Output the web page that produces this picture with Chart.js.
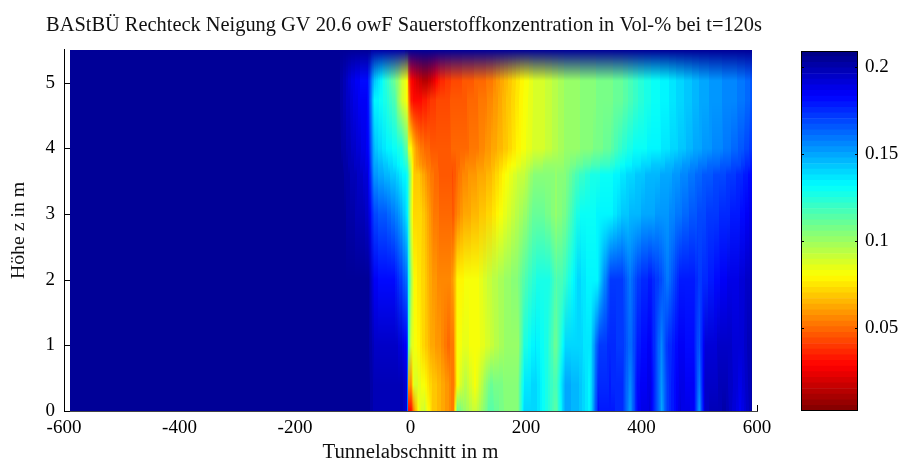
<!DOCTYPE html>
<html><head><meta charset="utf-8">
<style>html,body{margin:0;padding:0;background:#fff}canvas{position:absolute;top:0}</style>
<script src="https://cdn.jsdelivr.net/npm/chart.js@4"></script>
</head><body>
<canvas id="main" width="901" height="462" style="left:0"></canvas>
<canvas id="bar" width="111" height="462" style="left:790px"></canvas>
<script>
const titleText = "BAStBÜ Rechteck Neigung GV 20.6 owF Sauerstoffkonzentration in Vol-% bei t=120s";
const xTitle = "Tunnelabschnitt in m";
const yTitle = "Höhe z in m";
const xTicks = [-600,-400,-200,0,200,400,600];
const yTicks = [0,1,2,3,4,5];
const barTicks = [0.05,0.1,0.15,0.2];
const vMin = 0.0024, vMax = 0.209;
const xNodes = [-590,-122,-101,-87,-74,-63,-44,-27,-15,-5.5,-4,1,6,15,25,37,51,65,74,81,94,112,138,164,186,197,216,238,252,268,290,311,325,346,367,380,394,415,435,444,467,491,500,510,545,571,591];
const zNodes = [0,0.4,1,2,3,3.6,3.75,4,4.73,5.03,5.5];
const o2z00 = [.205,.205,.205,.205,.205,.198,.198,.198,.198,.19,.03,.03,.055,.085,.09,.07,.065,.058,.05,.11,.10,.09,.115,.105,.105,.14,.14,.125,.112,.15,.145,.133,.18,.178,.175,.15,.185,.19,.15,.17,.19,.185,.15,.195,.2,.185,.2];
const o2z04 = [.205,.205,.205,.205,.205,.198,.198,.198,.198,.19,.06,.055,.09,.085,.08,.07,.065,.058,.05,.08,.095,.082,.11,.105,.105,.135,.14,.125,.115,.15,.145,.133,.175,.177,.174,.155,.182,.188,.152,.171,.188,.183,.158,.193,.198,.188,.2];
const o2z10 = [.205,.205,.205,.205,.205,.196,.196,.195,.19,.18,.12,.09,.082,.078,.07,.062,.058,.05,.052,.08,.085,.08,.09,.1,.1,.125,.135,.125,.108,.14,.14,.135,.17,.175,.172,.16,.178,.185,.155,.172,.185,.18,.165,.19,.195,.19,.2];
const o2z20 = [.205,.205,.205,.205,.205,.185,.18,.18,.17,.16,.13,.10,.08,.075,.07,.06,.056,.054,.06,.078,.08,.08,.092,.1,.105,.115,.125,.128,.115,.12,.14,.132,.135,.172,.172,.158,.172,.178,.168,.158,.178,.178,.172,.175,.186,.19,.197];
const o2z30 = [.205,.205,.2,.198,.195,.168,.165,.158,.148,.135,.12,.09,.07,.072,.068,.055,.05,.05,.047,.055,.062,.065,.072,.085,.095,.1,.112,.108,.102,.108,.128,.13,.132,.133,.142,.145,.147,.15,.152,.153,.16,.166,.168,.17,.175,.18,.188];
const o2z36 = [.205,.205,.198,.195,.19,.153,.147,.142,.135,.13,.12,.095,.068,.068,.06,.052,.047,.046,.044,.05,.056,.06,.065,.08,.09,.092,.105,.105,.102,.105,.118,.125,.128,.13,.136,.14,.142,.146,.148,.149,.154,.16,.163,.165,.17,.175,.182];
const o2z375 = [.205,.204,.197,.193,.188,.15,.143,.137,.13,.122,.11,.09,.067,.06,.055,.05,.047,.046,.045,.049,.054,.057,.063,.075,.085,.088,.098,.1,.1,.103,.11,.115,.118,.122,.13,.134,.137,.141,.143,.145,.15,.156,.158,.16,.165,.17,.178];
const o2z40 = [.205,.203,.195,.19,.185,.145,.135,.13,.125,.11,.09,.08,.065,.055,.05,.047,.046,.047,.048,.048,.05,.052,.06,.068,.078,.082,.088,.09,.095,.1,.102,.105,.107,.112,.122,.127,.13,.132,.135,.137,.142,.148,.15,.152,.158,.165,.172];
const o2z473 = [.205,.203,.19,.185,.183,.135,.127,.115,.09,.08,.06,.035,.03,.03,.033,.04,.042,.044,.045,.045,.047,.05,.055,.066,.076,.081,.088,.09,.095,.1,.102,.105,.106,.108,.112,.117,.122,.128,.132,.134,.14,.145,.148,.15,.155,.158,.165];
const o2z503 = [.205,.203,.188,.183,.18,.145,.125,.11,.09,.08,.05,.03,.025,.018,.012,.02,.035,.04,.042,.043,.045,.048,.052,.065,.075,.08,.088,.09,.095,.1,.102,.105,.106,.108,.112,.117,.122,.128,.132,.134,.14,.145,.148,.15,.155,.158,.165];
const o2z55 = [.205,.205,.205,.205,.205,.2,.2,.2,.2,.205,.205,.205,.205,.205,.205,.205,.205,.205,.205,.205,.205,.205,.205,.205,.205,.205,.205,.205,.205,.205,.205,.205,.205,.205,.205,.205,.205,.205,.205,.205,.205,.205,.205,.205,.205,.205,.205];
const rows = [o2z00,o2z04,o2z10,o2z20,o2z30,o2z36,o2z375,o2z40,o2z473,o2z503,o2z55];
const LEVELS = 64;

function clamp01(a){return Math.max(0,Math.min(1,a));}
function jetRGB(v){
  let t = clamp01((v-vMin)/(vMax-vMin));
  let i = Math.min(LEVELS-1,Math.floor(t*LEVELS));
  let j = 1-(i+0.5)/LEVELS;
  return [clamp01(1.5-Math.abs(4*j-3))*255,clamp01(1.5-Math.abs(4*j-2))*255,clamp01(1.5-Math.abs(4*j-1))*255];
}
function findSeg(arr,v){
  let i=0; while(i<arr.length-2 && v>arr[i+1]) i++;
  return [i,clamp01((v-arr[i])/(arr[i+1]-arr[i]))];
}
const serif = "'Liberation Serif', serif";
const insideTicks = {
  id:'insideTicks',
  afterLayout(chart){
    chart.titleBlock.left=46; chart.titleBlock.right=762;
  },
  beforeDatasetsDraw(chart){
    const {ctx,scales:{x,y}} = chart;
    ctx.save(); ctx.strokeStyle='#000'; ctx.lineWidth=1;
    ctx.beginPath();
    yTicks.forEach(t=>{const p=Math.round(y.getPixelForValue(t))+.5;ctx.moveTo(x.left,p);ctx.lineTo(x.left+6,p);});
    ctx.stroke();
    ctx.beginPath();
    xTicks.forEach(t=>{const p=Math.round(x.getPixelForValue(t))+.5;ctx.moveTo(p,y.bottom);ctx.lineTo(p,y.bottom-6);});
    ctx.stroke();
    ctx.restore();
  }
};
const heatmap = {
  id:'heatmap',
  beforeDatasetsDraw(chart){
    const {ctx,scales:{x,y}} = chart;
    const x0=Math.round(x.getPixelForValue(xNodes[0])), x1=Math.round(x.getPixelForValue(xNodes[xNodes.length-1]));
    const y0=Math.round(y.getPixelForValue(zNodes[zNodes.length-1])), y1=Math.round(y.getPixelForValue(zNodes[0]));
    const w=x1-x0,h=y1-y0;
    const img=ctx.createImageData(w,h);
    const cols=[];
    for(let px=0;px<w;px++) cols.push(findSeg(xNodes,x.getValueForPixel(x0+px+.5)));
    for(let py=0;py<h;py++){
      const [r,fz]=findSeg(zNodes,y.getValueForPixel(y0+py+.5));
      const a=rows[r],b=rows[r+1];
      for(let px=0;px<w;px++){
        const [c,fx]=cols[px];
        const ca=jetRGB(a[c]+(a[c+1]-a[c])*fx), cb=jetRGB(b[c]+(b[c+1]-b[c])*fx);
        const k=(py*w+px)*4;
        img.data[k]=ca[0]+(cb[0]-ca[0])*fz;
        img.data[k+1]=ca[1]+(cb[1]-ca[1])*fz;
        img.data[k+2]=ca[2]+(cb[2]-ca[2])*fz;
        img.data[k+3]=255;
      }
    }
    ctx.putImageData(img,x0,y0);
  }
};
const nodes=[];
rows.forEach((row,r)=>row.forEach((v,c)=>nodes.push({x:xNodes[c],y:zNodes[r],v})));
new Chart(document.getElementById('main'),{
  type:'scatter',
  data:{datasets:[{label:'O2',data:nodes,pointRadius:0,showLine:false}]},
  plugins:[insideTicks,heatmap],
  options:{
    responsive:false,animation:false,
    layout:{padding:{left:0,right:144,top:0,bottom:0}},
    plugins:{legend:{display:false},tooltip:{enabled:false},
      title:{display:true,text:titleText,color:'#111',font:{family:serif,size:20.4,weight:'normal'},padding:{top:13,bottom:12.5}}},
    scales:{
      x:{type:'linear',min:-600,max:600,afterBuildTicks:s=>{s.ticks=xTicks.map(value=>({value}));},
        afterFit:s=>{s.height=51;},
        grid:{display:true,drawOnChartArea:false,drawTicks:false,color:'#444'},border:{color:'#444',width:1},
        ticks:{color:'#000',font:{family:serif,size:19},padding:6,maxRotation:0,autoSkip:false},
        title:{display:true,text:xTitle,color:'#111',font:{family:serif,size:20.8},padding:{top:0,bottom:-3}}},
      y:{type:'linear',min:0,max:5.5,afterBuildTicks:s=>{s.ticks=yTicks.map(value=>({value}));},
        afterFit:s=>{s.width=64;},
        grid:{display:true,drawOnChartArea:false,drawTicks:false,color:'#000'},border:{color:'#000',width:1},
        ticks:{color:'#000',font:{family:serif,size:19},padding:9},
        title:{display:true,text:yTitle,color:'#111',font:{family:serif,size:19.8},padding:{top:7,bottom:0}}}
    }
  }
});
const barLevels=[];
for(let i=0;i<LEVELS;i++) barLevels.push(i);
const step=(vMax-vMin)/LEVELS;
const barTickPlugin={id:'barTicks',afterDraw(chart){
  const {ctx,chartArea:a,scales:{y}}=chart;
  ctx.save();ctx.strokeStyle='#000';ctx.lineWidth=1;
  ctx.strokeRect(a.left+.5,a.top+.5,a.right-a.left-1,a.bottom-a.top-1);
  ctx.beginPath();
  barTicks.forEach(t=>{const p=Math.round(y.getPixelForValue(t))+.5;ctx.moveTo(a.left,p);ctx.lineTo(a.left+3,p);ctx.moveTo(a.right-3,p);ctx.lineTo(a.right,p);});
  ctx.stroke();ctx.restore();
}};
new Chart(document.getElementById('bar'),{
  type:'bar',
  data:{labels:['c'],datasets:barLevels.map(i=>{
    const c=jetRGB(vMin+(i+.5)*step);
    return {data:[[vMin+i*step,vMin+(i+1)*step]],backgroundColor:`rgb(${c[0]|0},${c[1]|0},${c[2]|0})`,borderWidth:0,barPercentage:1,categoryPercentage:1,grouped:false};
  })},
  plugins:[barTickPlugin],
  options:{
    responsive:false,animation:false,
    layout:{padding:{left:11,right:0,top:51,bottom:51}},
    plugins:{legend:{display:false},tooltip:{enabled:false}},
    scales:{
      x:{display:false},
      y:{position:'right',type:'linear',min:vMin,max:vMax,afterBuildTicks:s=>{s.ticks=barTicks.map(value=>({value}));},
        afterFit:s=>{s.width=43;},
        grid:{display:false,drawTicks:false},border:{display:false},
        ticks:{color:'#000',font:{family:serif,size:19},padding:7,callback:v=>String(v)}}
    }
  }
});
</script>
</body></html>
